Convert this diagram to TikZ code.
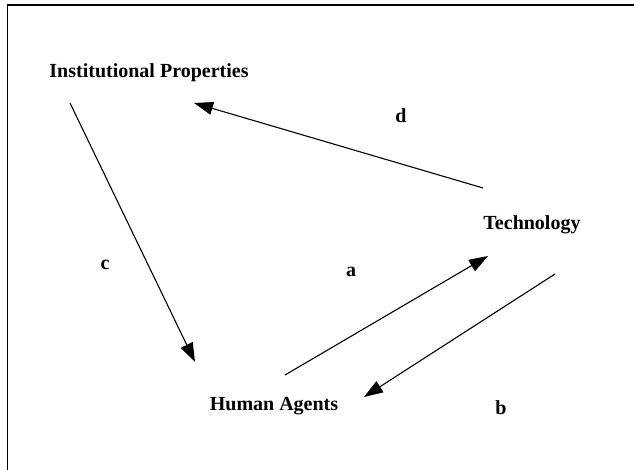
\documentclass[tikz,border=0pt]{standalone}
\usepackage{fontspec}
\setmainfont{Liberation Serif}
\usetikzlibrary{arrows.meta}
\begin{document}
\begin{tikzpicture}[x=1pt,y=-1pt,
  concept/.style={font=\fontsize{20}{23}\selectfont\bfseries, inner sep=0pt},
  lbl/.style={font=\fontsize{20}{23}\selectfont\bfseries, inner sep=0pt},
  link/.style={line width=1.1pt, -{Triangle[length=19pt,width=13pt]}},
  frameline/.style={line width=1.6pt}]
  \useasboundingbox (0,0) rectangle (634,470);
  % partial frame: top and left edges
  \draw[frameline] (634,5) -- (7.5,5) -- (7.5,470);

  % concepts
  \node[concept] (inst) at (149,73) {Institutional Properties};
  \node[concept] (tech) at (532,225) {Technology};
  \node[concept] (human) at (274,406) {Human Agents};

  % connector end points
  \coordinate (c0) at (70,103);
  \coordinate (c1) at (195,362);
  \coordinate (d0) at (483,188);
  \coordinate (d1) at (194,103);
  \coordinate (a0) at (285,375);
  \coordinate (a1) at (488,256);
  \coordinate (b0) at (555,274);
  \coordinate (b1) at (364,397);

  \draw[link] (c0) -- (c1);
  \draw[link] (d0) -- (d1);
  \draw[link] (a0) -- (a1);
  \draw[link] (b0) -- (b1);

  % connector labels
  \node[lbl] (la) at (351,272) {a};
  \node[lbl] (lb) at (501,408) {b};
  \node[lbl] (lc) at (105,265) {c};
  \node[lbl] (ld) at (401,116) {d};
\end{tikzpicture}
\end{document}
